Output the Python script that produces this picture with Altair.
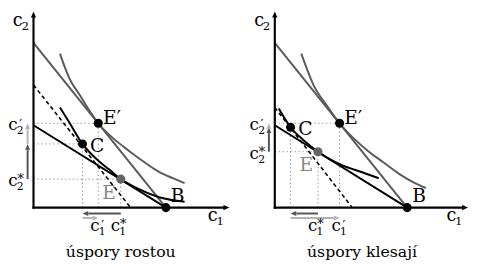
import math
import altair as alt
import pandas as pd

# ---------------- values (units: c1 across, c2 up) ----------------
TITLES = ["úspory rostou", "úspory klesají"]
POINT_NAMES = ["E′", "C", "E", "B"]

# left panel: "úspory rostou"
L_GREY_BUDGET_C1 = [0.0, 10.0]
L_GREY_BUDGET_C2 = [12.44, 0.0]
L_BLACK_BUDGET_C1 = [0.0, 10.0]
L_BLACK_BUDGET_C2 = [6.22, 0.0]
L_DASHED_C1 = [0.0, 7.33]
L_DASHED_C2 = [9.26, 0.0]
L_GREY_IC_C1 = [2.00, 2.37, 2.74, 3.48, 4.22, 4.89, 6.07, 7.19, 8.30, 9.41, 10.52, 11.41]
L_GREY_IC_C2 = [11.63, 10.59, 9.70, 8.52, 7.33, 6.37, 5.19, 4.30, 3.48, 2.74, 2.22, 1.85]
L_BLACK_IC_C1 = [2.00, 2.74, 3.70, 4.96, 5.70, 6.59, 7.93, 9.63, 11.41]
L_BLACK_IC_C2 = [7.56, 6.37, 4.81, 3.48, 2.89, 2.15, 1.41, 0.74, 0.44]
L_POINTS_C1 = [4.89, 3.70, 6.59, 10.0]
L_POINTS_C2 = [6.37, 4.81, 2.15, 0.0]

# right panel: "úspory klesají"
R_GREY_BUDGET_C1 = [0.0, 10.0]
R_GREY_BUDGET_C2 = [12.44, 0.0]
R_BLACK_BUDGET_C1 = [0.0, 10.0]
R_BLACK_BUDGET_C2 = [6.22, 0.0]
R_DASHED_C1 = [0.0, 5.85]
R_DASHED_C2 = [7.56, 0.0]
R_GREY_IC_C1 = [2.00, 2.44, 2.89, 3.93, 4.89, 6.00, 7.11, 8.22, 9.56, 10.44, 11.41]
R_GREY_IC_C2 = [11.63, 10.44, 9.33, 7.70, 6.37, 5.19, 4.22, 3.41, 2.44, 1.93, 1.48]
R_BLACK_IC_C1 = [0.30, 1.19, 2.15, 3.26, 5.11, 6.59, 7.85]
R_BLACK_IC_C2 = [7.48, 6.07, 5.11, 4.22, 3.19, 2.67, 2.22]
R_POINTS_C1 = [4.89, 1.19, 3.26, 10.0]
R_POINTS_C2 = [6.37, 6.07, 4.22, 0.0]

# ---------------- layout ----------------
PX = 13.5            # pixels per unit
H = 257
OY = 201             # origin row inside a panel (px from top)
FONT = "DejaVu Serif"
GREY = "#5a5a5a"
DARK = "#555555"
LIGHT = "#b4b4b4"
DOT = "#999999"

HEAD_UP = "M0,0L-0.75,1.75L0.75,1.75Z"
HEAD_LEFT = "M0,0L1.75,-0.75L1.75,0.75Z"
HEAD_RIGHT = "M0,0L-1.75,-0.75L-1.75,0.75Z"


def panel(width, ox, xlen, d, title, hguides):
    xs = alt.Scale(domain=[-ox / PX, (width - ox) / PX], nice=False, zero=False)
    ys = alt.Scale(domain=[-(H - OY) / PX, OY / PX], nice=False, zero=False)

    def X(f="x"):
        return alt.X(f"{f}:Q", scale=xs, axis=None)

    def Y(f="y"):
        return alt.Y(f"{f}:Q", scale=ys, axis=None)

    layers = []

    def line(xv, yv, color, w, dash=None, interp="linear"):
        df = pd.DataFrame({"x": xv, "y": yv, "o": list(range(len(xv)))})
        kw = dict(color=color, strokeWidth=w, interpolate=interp, strokeCap="butt")
        if dash:
            kw["strokeDash"] = dash
        layers.append(alt.Chart(df).mark_line(**kw).encode(x=X(), y=Y(), order="o:Q"))

    def rules(rows, color, w, dash=None, cap="butt"):
        df = pd.DataFrame(rows, columns=["x", "x2", "y", "y2"])
        kw = dict(color=color, strokeWidth=w, strokeCap=cap)
        if dash:
            kw["strokeDash"] = dash
        layers.append(alt.Chart(df).mark_rule(**kw).encode(
            x=X(), x2="x2:Q", y=Y(), y2="y2:Q"))

    def heads(rows, shape, color, size):
        df = pd.DataFrame(rows, columns=["x", "y"])
        layers.append(alt.Chart(df).mark_point(
            shape=shape, filled=True, color=color, size=size, opacity=1, strokeWidth=0
        ).encode(x=X(), y=Y()))

    pts = {n: (x, y) for n, x, y in zip(POINT_NAMES, d["pc1"], d["pc2"])}
    Ep, C, E, B = pts["E′"], pts["C"], pts["E"], pts["B"]

    # dotted guides
    guide = []
    for n in hguides:
        guide.append([0, pts[n][0], pts[n][1], pts[n][1]])
    for n in ["C", "E′", "E"]:
        guide.append([pts[n][0], pts[n][0], 0, pts[n][1]])
    rules(guide, DOT, 1, dash=[1.5, 2.5])

    # curves and budget lines
    line(d["gb1"], d["gb2"], GREY, 2)
    line(d["gi1"], d["gi2"], GREY, 2, interp="monotone")
    line(d["bb1"], d["bb2"], "black", 2)
    line(d["bi1"], d["bi2"], "black", 2, interp="monotone")
    line(d["da1"], d["da2"], "black", 1.6, dash=[4, 3])

    # axes with arrow heads
    ytop = (OY - 1) / PX
    rules([[0, 0, 0, ytop - 6 / PX], [0, xlen - 6 / PX, 0, 0]], "black", 2.2, cap="square")
    heads([[0, ytop]], HEAD_UP, "black", 50)
    heads([[xlen, 0]], HEAD_RIGHT, "black", 50)

    # points
    pdf = pd.DataFrame({"x": d["pc1"], "y": d["pc2"], "n": POINT_NAMES})
    pdf["c"] = ["black", "black", "#666666", "black"]
    layers.append(alt.Chart(pdf).mark_circle(size=85, opacity=1).encode(
        x=X(), y=Y(), color=alt.Color("c:N", scale=None)))

    # effect arrows
    hl = 6.0  # head length px

    def arrow(x0, y0, x1, y1, color, shape):
        L = math.hypot(x1 - x0, y1 - y0) * PX
        if L > hl:
            f = (L - hl) / L
            rules([[x0, x0 + (x1 - x0) * f, y0, y0 + (y1 - y0) * f]], color, 2)
        heads([[x1, y1]], shape, color, 45)

    ax = -6 / PX
    arrow(ax, E[1], ax, C[1], DARK, HEAD_UP)
    arrow(ax, C[1], ax, Ep[1], LIGHT, HEAD_UP)
    arrow(E[0], -6 / PX, C[0], -6 / PX, DARK, HEAD_LEFT)
    arrow(C[0], -10.5 / PX, Ep[0], -10.5 / PX, LIGHT, HEAD_RIGHT)

    # texts
    rows = []

    def t(x, y, text, size, color="black", dxp=0, dyp=0):
        rows.append(dict(x=x + dxp / PX, y=y - dyp / PX, t=text, s=size, c=color))

    def cl(x, y, idx, sup=None, size=17, dxp=0, dyp=0, supdy=-2):
        t(x, y, "c", size, dxp=dxp, dyp=dyp)
        t(x, y, idx, round(size * 0.66), dxp=dxp + 7.5, dyp=dyp + 4)
        if sup:
            t(x, y, sup, round(size * 0.75), dxp=dxp + 8, dyp=dyp + supdy)

    cl(0, ytop, "2", size=18, dxp=-16, dyp=15)
    cl(xlen, 0, "1", size=18, dxp=-17, dyp=14)
    cl(0, Ep[1], "2", "′", dxp=-21, dyp=7, supdy=-1)
    cl(0, E[1], "2", "*", dxp=-21, dyp=7, supdy=-3)
    cl(Ep[0], 0, "1", "′", dxp=-3.5, dyp=24, supdy=-1)
    cl(E[0], 0, "1", "*", dxp=-5.5, dyp=24, supdy=-3)
    t(Ep[0], Ep[1], "E′", 19, dxp=14, dyp=1)
    t(C[0], C[1], "C", 19, dxp=15, dyp=8)
    t(E[0], E[1], "E", 19, "#888888", dxp=-12, dyp=20)
    t(B[0], B[1], "B", 19, dxp=12, dyp=-6)
    t(6.59, 0, title, 16, dyp=50)

    tdf = pd.DataFrame(rows)
    layers.append(alt.Chart(tdf).mark_text(font=FONT, baseline="alphabetic", align="center").encode(
        x=X(), y=Y(), text="t:N",
        size=alt.Size("s:Q", scale=None), color=alt.Color("c:N", scale=None)))

    return alt.layer(*layers).properties(width=width, height=H)


left = panel(230, 25, 14.8, dict(
    gb1=L_GREY_BUDGET_C1, gb2=L_GREY_BUDGET_C2, bb1=L_BLACK_BUDGET_C1, bb2=L_BLACK_BUDGET_C2,
    da1=L_DASHED_C1, da2=L_DASHED_C2, gi1=L_GREY_IC_C1, gi2=L_GREY_IC_C2,
    bi1=L_BLACK_IC_C1, bi2=L_BLACK_IC_C2, pc1=L_POINTS_C1, pc2=L_POINTS_C2),
    TITLES[0], ["E′", "C", "E"])

right = panel(239, 41, 14.6, dict(
    gb1=R_GREY_BUDGET_C1, gb2=R_GREY_BUDGET_C2, bb1=R_BLACK_BUDGET_C1, bb2=R_BLACK_BUDGET_C2,
    da1=R_DASHED_C1, da2=R_DASHED_C2, gi1=R_GREY_IC_C1, gi2=R_GREY_IC_C2,
    bi1=R_BLACK_IC_C1, bi2=R_BLACK_IC_C2, pc1=R_POINTS_C1, pc2=R_POINTS_C2),
    TITLES[1], ["E′", "E"])

chart = alt.hconcat(left, right, spacing=0, bounds="flush").properties(
    padding=0
).configure_view(stroke=None).configure_concat(spacing=0)

chart.save("out.html", embed_options={"renderer": "svg", "actions": False})
